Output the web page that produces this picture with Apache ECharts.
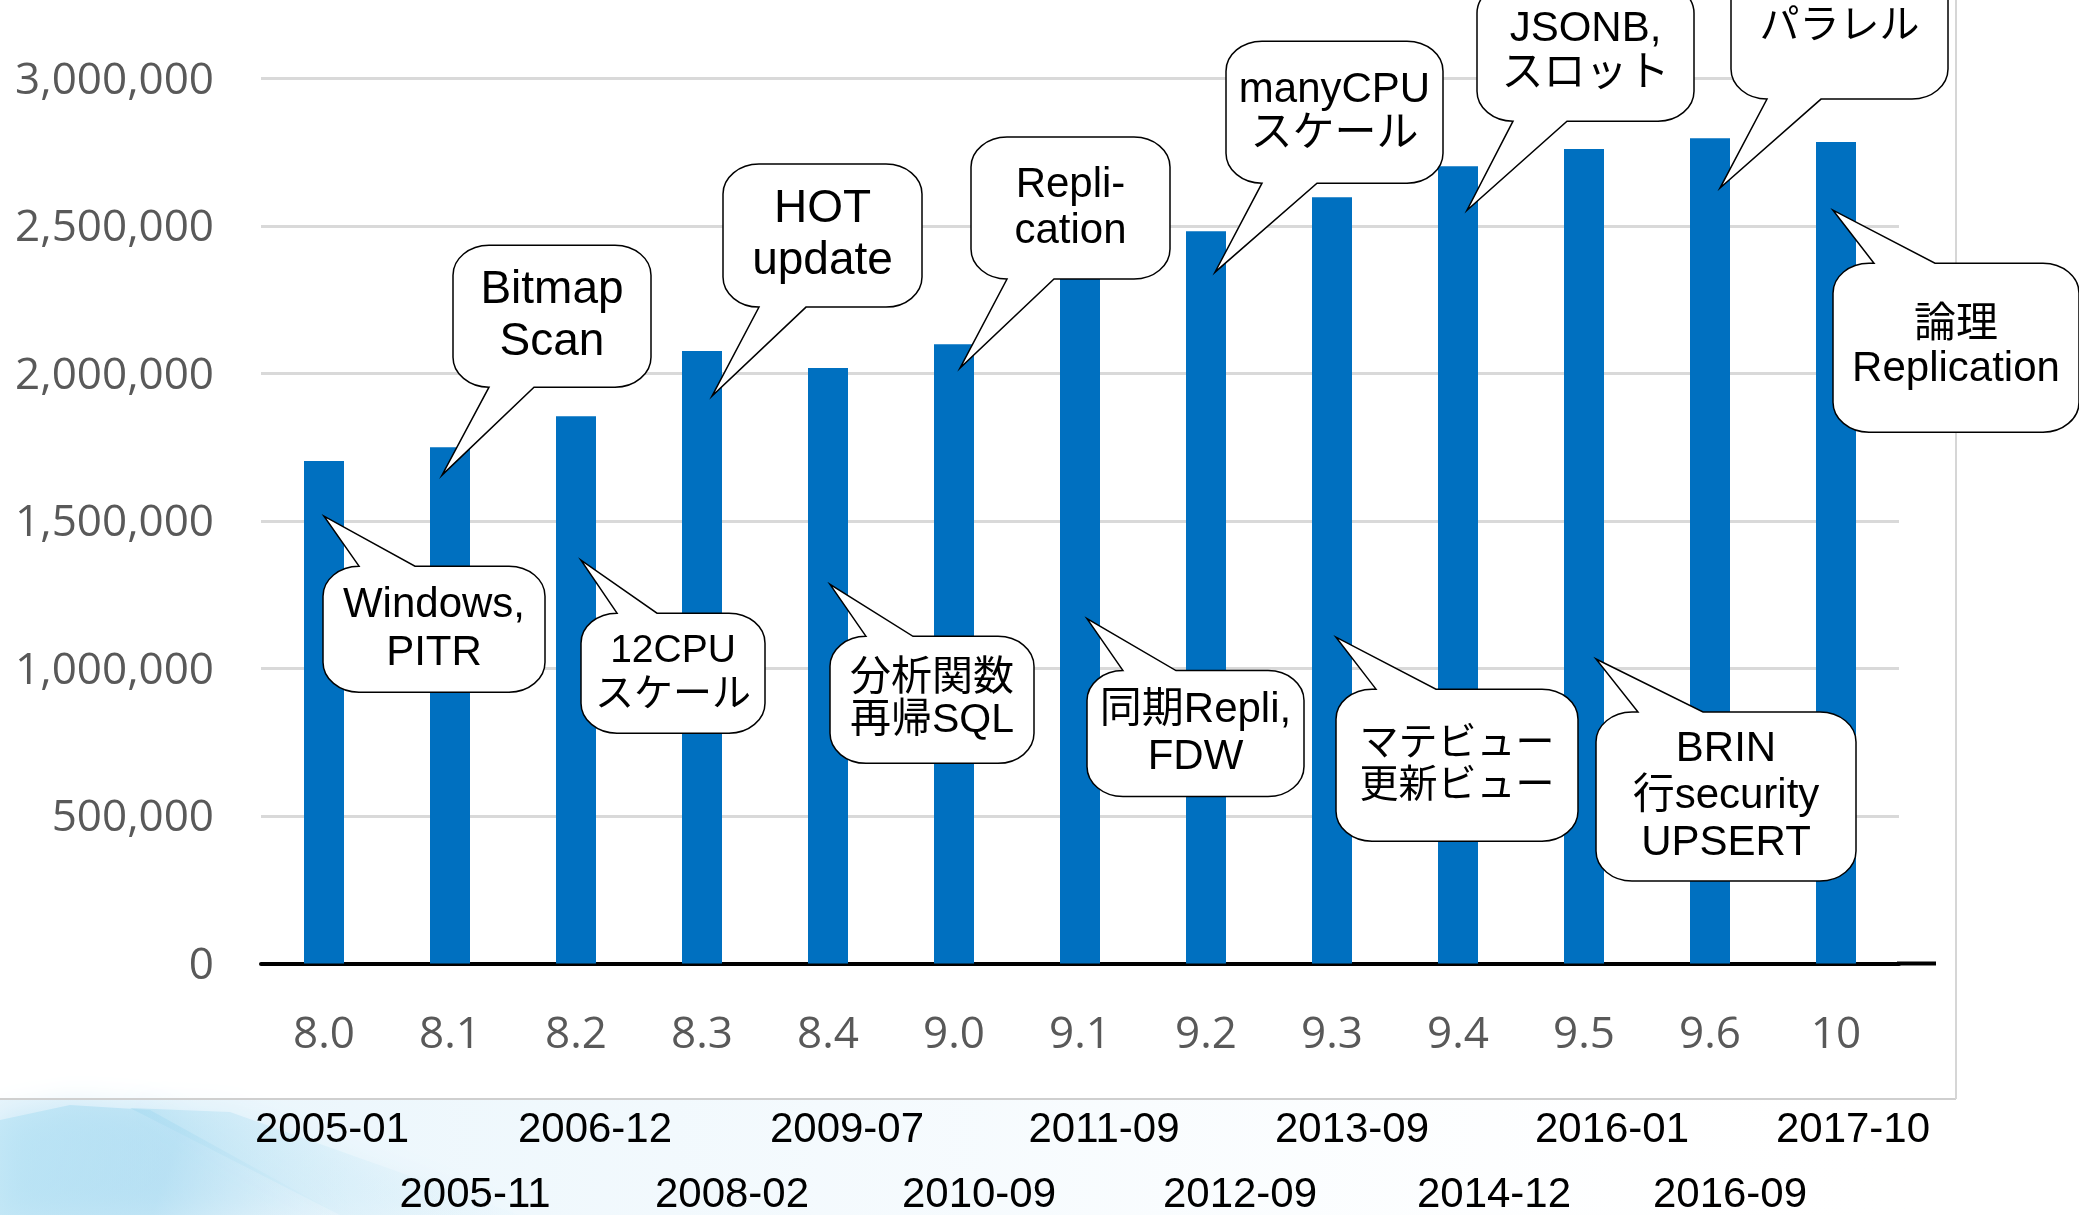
<!DOCTYPE html>
<html>
<head>
<meta charset="utf-8">
<script src="https://cdn.jsdelivr.net/npm/echarts@6/dist/echarts.min.js"></script>
<style>
html,body{margin:0;padding:0;background:#ffffff;}
#chart{width:2079px;height:1215px;}
</style>
</head>
<body>
<div id="chart"></div>
<script>
// ---------------- DATA ----------------
const versions = ['8.0','8.1','8.2','8.3','8.4','9.0','9.1','9.2','9.3','9.4','9.5','9.6','10'];
const releaseDates = ['2005-01','2005-11','2006-12','2008-02','2009-07','2010-09','2011-09','2012-09','2013-09','2014-12','2016-01','2016-09','2017-10'];
const tpsValues = [1703000,1750000,1855000,2076000,2018000,2099000,2390000,2482000,2597000,2702000,2760000,2797000,2784000];
const yTickValues = [0,500000,1000000,1500000,2000000,2500000,3000000];
const featureNotes = [
  'Windows,\nPITR',
  'Bitmap\nScan',
  '12CPU\nスケール',
  'HOT\nupdate',
  '分析関数\n再帰SQL',
  'Repli-\ncation',
  '同期Repli,\nFDW',
  'manyCPU\nスケール',
  'マテビュー\n更新ビュー',
  'JSONB,\nスロット',
  'BRIN\n行security\nUPSERT',
  'パラレル',
  '論理\nReplication'
];
// value on each bar that the callout tail points at
const noteAnchors = [1516000,1655000,1367000,1923000,1285000,2018000,1169000,2343000,1106000,2553000,1032000,2628000,2553000];

// ---------------- LAYOUT / STYLE ----------------
const W = 2079, H = 1215;
const grid = {left:261, right:180, top:78.3, bottom:251.5};
const axisExtension = 37;
// callout geometry relative to the tail tip: dx shift of tip, box [dx, dy, w, h], tail base offsets along edge, font size, line height
const calloutLayout = [
  {dx:0,  box:[-1, 50,222,126], tail:[36,92],  fs:42, lh:48},
  {dx:-8, box:[11,-230,198,142], tail:[33,81], fs:46, lh:52},
  {dx:5,  box:[0, 53,184,120],  tail:[29,76],  fs:39, lh:44},
  {dx:10, box:[11,-232,199,143], tail:[34,83], fs:46, lh:52},
  {dx:2,  box:[0, 52,204,127],  tail:[32,83],  fs:41, lh:42},
  {dx:6,  box:[11,-231,199,142], tail:[33,83], fs:42, lh:46},
  {dx:7,  box:[0, 52,217,126],  tail:[35,89],  fs:42, lh:47},
  {dx:9,  box:[11,-231,217,142], tail:[36,91], fs:42, lh:44},
  {dx:4,  box:[0, 52,242,152],  tail:[40,100], fs:39, lh:42},
  {dx:9,  box:[10,-227,217,138], tail:[35,90], fs:42, lh:45},
  {dx:12, box:[0, 53,260,169],  tail:[42,107], fs:42, lh:47},
  {dx:10, box:[11,-233,217,144], tail:[36,90], fs:40, lh:46},
  {dx:-3, box:[0, 53,246,169],  tail:[41,102], fs:42, lh:44}
];
const dateLayout = {
  dx:[8,25,19,30,19,25,24,34,20,36,28,20,17],
  rowY:[167,232]
};
const latinCjk = '"Liberation Sans", Arial, "Noto Sans CJK JP", sans-serif';
const axisFont = '"Open Sans", "Noto Sans", sans-serif';
const cornerRx = 36, cornerRy = 30;

function bubblePath(tx, ty, L, T, Wd, Ht, a, b) {
  const R = L + Wd, B = T + Ht, k = 0.5523;
  const rx = cornerRx, ry = Math.min(cornerRy, Ht / 4);
  const onTop = T > ty;
  const a2 = L + Math.max(a, rx);
  let p = 'M' + (L + rx) + ',' + T;
  if (onTop) p += ' L' + a2 + ',' + T + ' L' + tx + ',' + ty + ' L' + (L + b) + ',' + T;
  p += ' L' + (R - rx) + ',' + T;
  p += ' C' + (R - rx + rx * k) + ',' + T + ' ' + R + ',' + (T + ry - ry * k) + ' ' + R + ',' + (T + ry);
  p += ' L' + R + ',' + (B - ry);
  p += ' C' + R + ',' + (B - ry + ry * k) + ' ' + (R - rx + rx * k) + ',' + B + ' ' + (R - rx) + ',' + B;
  if (!onTop) p += ' L' + (L + b) + ',' + B + ' L' + tx + ',' + ty + ' L' + a2 + ',' + B;
  p += ' L' + (L + rx) + ',' + B;
  p += ' C' + (L + rx - rx * k) + ',' + B + ' ' + L + ',' + (B - ry + ry * k) + ' ' + L + ',' + (B - ry);
  p += ' L' + L + ',' + (T + ry);
  p += ' C' + L + ',' + (T + ry - ry * k) + ' ' + (L + rx - rx * k) + ',' + T + ' ' + (L + rx) + ',' + T + ' Z';
  return p;
}

const chart = echarts.init(document.getElementById('chart'), null, {renderer:'canvas', width:W, height:H});

const option = {
  animation:false,
  backgroundColor:'#ffffff',
  grid:{left:grid.left, right:grid.right, top:grid.top, bottom:grid.bottom, containLabel:false},
  xAxis:{
    type:'category',
    data:versions,
    axisLine:{show:true, lineStyle:{color:'#000000', width:4}},
    axisTick:{show:false},
    axisLabel:{fontSize:44, color:'#595959', fontFamily:axisFont, margin:50}
  },
  yAxis:{
    type:'value',
    min:yTickValues[0],
    max:yTickValues[yTickValues.length-1],
    interval:yTickValues[1]-yTickValues[0],
    axisLine:{show:false},
    axisTick:{show:false},
    axisLabel:{fontSize:44, color:'#595959', fontFamily:axisFont, margin:47,
      formatter:v => '{v|' + v.toLocaleString('en-US') + '}',
      rich:{v:{fontSize:44, color:'#595959', fontFamily:axisFont, padding:[6,0,0,0]}}},
    splitLine:{lineStyle:{color:'#d9d9d9', width:3}}
  },
  graphic:[
    {id:'wisp1', type:'polygon', z:-10, silent:true, shape:{points:[[0,1120],[70,1105],[150,1110],[340,1215],[0,1215]]},
      style:{lineWidth:0, stroke:null, shadowBlur:30, shadowColor:'rgba(150,210,238,0.6)',
        fill:new echarts.graphic.LinearGradient(0,0,1,1,[
        {offset:0, color:'rgba(185,228,245,0.7)'},
        {offset:0.5, color:'rgba(160,215,240,0.5)'},
        {offset:1, color:'rgba(225,242,250,0.25)'}])}},
    {id:'wisp2', type:'polygon', z:-9, silent:true, shape:{points:[[130,1108],[230,1112],[520,1215],[340,1215]]},
      style:{lineWidth:0, stroke:null, shadowBlur:30, shadowColor:'rgba(170,220,242,0.5)',
        fill:new echarts.graphic.LinearGradient(0,0,1,0,[
        {offset:0, color:'rgba(165,218,240,0.55)'},
        {offset:1, color:'rgba(230,245,252,0.15)'}])}},
    {id:'strip', type:'rect', z:-11, silent:true, shape:{x:0, y:1100, width:1956, height:115},
      style:{lineWidth:0, fill:new echarts.graphic.LinearGradient(0,0,1,0,[
        {offset:0, color:'rgba(228,243,251,0.9)'},
        {offset:0.5, color:'rgba(240,248,253,0.6)'},
        {offset:1, color:'rgba(255,255,255,0)'}])}},
    {id:'panelBottom', type:'line', z:-5, silent:true, shape:{x1:0, y1:1099, x2:1956, y2:1099}, style:{stroke:'#cfcfcf', lineWidth:2}},
    {id:'panelRight', type:'line', z:-5, silent:true, shape:{x1:1956, y1:0, x2:1956, y2:1099}, style:{stroke:'#d6d6d6', lineWidth:2}}
  ],
  series:[
    {
      type:'bar',
      data:tpsValues,
      barWidth:40,
      itemStyle:{color:'#0070c0'},
      z:2
    },
    {
      type:'custom',
      z:10,
      silent:true,
      clip:false,
      encode:{x:0, y:1},
      data:featureNotes.map((t,i)=>[i, noteAnchors[i]]),
      renderItem:function(params, api){
        const i = params.dataIndex;
        const c = calloutLayout[i];
        const pt = api.coord([api.value(0), api.value(1)]);
        const tx = pt[0] + c.dx, ty = pt[1];
        const L = tx + c.box[0], T = ty + c.box[1], Wd = c.box[2], Ht = c.box[3];
        return {
          type:'group',
          children:[
            {type:'path', shape:{pathData:bubblePath(tx, ty, L, T, Wd, Ht, c.tail[0], c.tail[1])},
              style:{fill:'#ffffff', stroke:'#000000', lineWidth:1.5}},
            {type:'text', x:L + Wd/2, y:T + Ht/2,
              style:{text:featureNotes[i], fontSize:c.fs, lineHeight:c.lh, fontFamily:latinCjk,
                fill:'#000000', align:'center', verticalAlign:'middle'}}
          ]
        };
      }
    },
    {
      type:'custom',
      z:10,
      silent:true,
      clip:false,
      encode:{x:0, y:1},
      data:releaseDates.map((d,i)=>[i, 0]),
      renderItem:function(params, api){
        const i = params.dataIndex;
        const pt = api.coord([api.value(0), 0]);
        return {
          type:'text',
          x:pt[0] + dateLayout.dx[i],
          y:pt[1] + dateLayout.rowY[i % 2],
          style:{text:releaseDates[i], fontSize:42, fontFamily:latinCjk, fill:'#000000',
            align:'center', verticalAlign:'middle'}
        };
      }
    }
  ]
};
chart.setOption(option);

// extend the baseline a little past the last category, as in the original
const y0 = chart.convertToPixel({yAxisIndex:0}, 0);
const xEnd = W - grid.right;
chart.setOption({graphic:[
  {id:'axisExt', type:'line', z:5, silent:true, shape:{x1:xEnd - 2, y1:y0, x2:xEnd + axisExtension, y2:y0},
    style:{stroke:'#000000', lineWidth:4}}
]});
</script>
</body>
</html>
